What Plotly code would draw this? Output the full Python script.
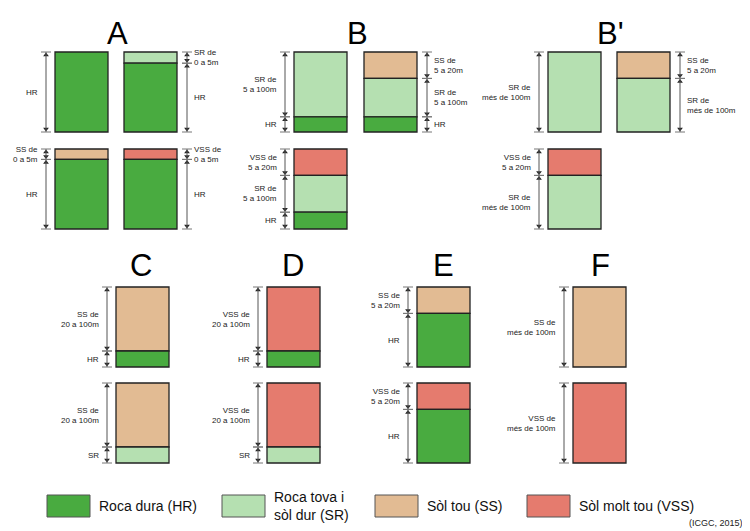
import plotly.graph_objects as go

# %%
# soil columns: layers top -> bottom, share of column height, dimension labels
col_panel = ["A", "A", "A", "A", "B", "B", "B", "B'", "B'", "B'",
             "C", "C", "D", "D", "E", "E", "F", "F"]
col_layers = [
    ["HR"], ["SR", "HR"], ["SS", "HR"], ["VSS", "HR"],
    ["SR", "HR"], ["SS", "SR", "HR"], ["VSS", "SR", "HR"],
    ["SR"], ["SS", "SR"], ["VSS", "SR"],
    ["SS", "HR"], ["SS", "SR"], ["VSS", "HR"], ["VSS", "SR"],
    ["SS", "HR"], ["VSS", "HR"], ["SS"], ["VSS"],
]
col_shares = [
    [1.0], [0.14, 0.86], [0.13, 0.87], [0.13, 0.87],
    [0.81, 0.19], [0.33, 0.48, 0.19], [0.33, 0.46, 0.21],
    [1.0], [0.33, 0.67], [0.33, 0.67],
    [0.8, 0.2], [0.8, 0.2], [0.8, 0.2], [0.8, 0.2],
    [0.33, 0.67], [0.33, 0.67], [1.0], [1.0],
]
col_labels = [
    ["HR"], ["SR de<br>0 a 5m", "HR"], ["SS de<br>0 a 5m", "HR"], ["VSS de<br>0 a 5m", "HR"],
    ["SR de<br>5 a 100m", "HR"],
    ["SS de<br>5 a 20m", "SR de<br>5 a 100m", "HR"],
    ["VSS de<br>5 a 20m", "SR de<br>5 a 100m", "HR"],
    ["SR de<br>més de 100m"],
    ["SS de<br>5 a 20m", "SR de<br>més de 100m"],
    ["VSS de<br>5 a 20m", "SR de<br>més de 100m"],
    ["SS de<br>20 a 100m", "HR"], ["SS de<br>20 a 100m", "SR"],
    ["VSS de<br>20 a 100m", "HR"], ["VSS de<br>20 a 100m", "SR"],
    ["SS de<br>5 a 20m", "HR"], ["VSS de<br>5 a 20m", "HR"],
    ["SS de<br>més de 100m"], ["VSS de<br>més de 100m"],
]

legend_codes = ["HR", "SR", "SS", "VSS"]
legend_names = ["Roca dura (HR)", "Roca tova i<br>sòl dur (SR)", "Sòl tou (SS)", "Sòl molt tou (VSS)"]
source_text = "(ICGC, 2015)"

# %%
# layout of the sketch (page pixels)
colors = {"HR": "#49ab40", "SR": "#b5e0b1", "SS": "#e2bb93", "VSS": "#e57b6e"}
col_x = [55, 124, 55, 124, 294, 364, 294, 548, 617, 548,
         116, 116, 267, 267, 417, 417, 573, 573]
col_y = [52, 52, 149, 149, 52, 52, 149, 52, 52, 149,
         287, 383, 287, 383, 287, 383, 287, 383]
dim_right = [False, True, False, True, False, True, False, False, True, False,
             False, False, False, False, False, False, False, False]
box_w, box_h = 53, 80
title_pos = {"A": (117, 33), "B": (357, 33), "B'": (610, 33),
             "C": (141, 265), "D": (293, 265), "E": (443, 265), "F": (600, 265)}
legend_x = [47, 222, 375, 527]

# the page body has an 8px margin, so the figure is shrunk and the ranges shifted
page_w, page_h, body_margin = 750, 531, 8

label_font = dict(family="Liberation Sans, Arial", size=8, color="#222")

fig = go.Figure()
up_x, up_y, dn_x, dn_y = [], [], [], []

for i in range(len(col_layers)):
    x0, y = col_x[i], col_y[i]
    dx = x0 + box_w + 10 if dim_right[i] else x0 - 9
    fig.add_shape(type="line", x0=dx, x1=dx, y0=y, y1=y + box_h,
                  line=dict(color="#555", width=1))
    for layer, share, label in zip(col_layers[i], col_shares[i], col_labels[i]):
        h = share * box_h
        fig.add_shape(type="rect", x0=x0, x1=x0 + box_w, y0=y, y1=y + h,
                      fillcolor=colors[layer], line=dict(color="#222", width=1.3))
        for yy in (y, y + h):
            fig.add_shape(type="line", x0=dx - 5, x1=dx + 5, y0=yy, y1=yy,
                          line=dict(color="#777", width=1))
        up_x.append(dx)
        up_y.append(y + 3)
        dn_x.append(dx)
        dn_y.append(y + h - 3)
        fig.add_annotation(x=dx + 5 if dim_right[i] else dx - 6, y=y + h / 2,
                           text=label, showarrow=False,
                           xanchor="left" if dim_right[i] else "right",
                           align="left" if dim_right[i] else "right",
                           yanchor="middle", font=label_font)
        y += h

fig.add_trace(go.Scatter(x=up_x, y=up_y, mode="markers", hoverinfo="skip",
                         marker=dict(symbol="triangle-up", size=5, color="#222")))
fig.add_trace(go.Scatter(x=dn_x, y=dn_y, mode="markers", hoverinfo="skip",
                         marker=dict(symbol="triangle-down", size=5, color="#222")))

for name, (tx, ty) in title_pos.items():
    fig.add_annotation(x=tx, y=ty, text=name, showarrow=False,
                       font=dict(family="Liberation Sans, Arial", size=31, color="black"))

for code, name, lx in zip(legend_codes, legend_names, legend_x):
    fig.add_shape(type="rect", x0=lx, x1=lx + 43, y0=495, y1=517,
                  fillcolor=colors[code], line=dict(color="#555", width=1))
    fig.add_annotation(x=lx + 50, y=506, text=name, showarrow=False,
                       xanchor="left", align="left", yanchor="middle",
                       font=dict(family="Liberation Sans, Arial", size=14, color="#111"))

fig.add_annotation(x=745, y=523, text=source_text, showarrow=False, xanchor="right",
                   font=dict(family="Liberation Sans, Arial", size=9, color="#222"))

fig.update_xaxes(range=[body_margin, page_w], visible=False, fixedrange=True)
fig.update_yaxes(range=[page_h, body_margin], visible=False, fixedrange=True)
fig.update_layout(width=page_w - body_margin, height=page_h - body_margin,
                  margin=dict(l=0, r=0, t=0, b=0),
                  plot_bgcolor="white", paper_bgcolor="white", showlegend=False)

fig.write_html("out.html")
